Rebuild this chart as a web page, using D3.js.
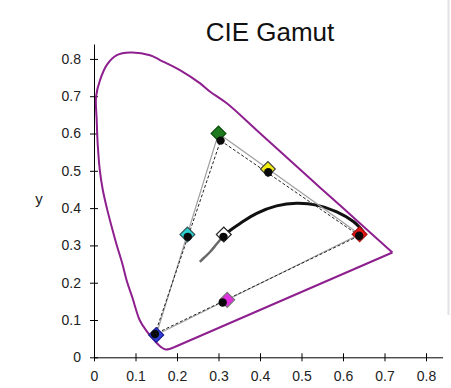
<!DOCTYPE html>
<html>
<head>
<meta charset="utf-8">
<script src="https://cdn.jsdelivr.net/npm/d3@7"></script>
<style>
  body { margin: 0; background: #fff; }
  svg { display: block; font-family: "Liberation Sans", Arial, sans-serif; }
</style>
</head>
<body>
<script>
// spectral locus (blue end -> up the left side -> red end)
const locusX = [0.193, 0.173, 0.161, 0.145, 0.125, 0.110, 0.092, 0.080, 0.068, 0.055, 0.045, 0.031, 0.021, 0.014, 0.009, 0.0065, 0.005, 0.0145, 0.031, 0.055, 0.087, 0.135, 0.159, 0.207, 0.255, 0.280, 0.320, 0.392, 0.50, 0.60, 0.719];
const locusY = [0.027, 0.021, 0.028, 0.046, 0.073, 0.100, 0.162, 0.201, 0.252, 0.300, 0.340, 0.400, 0.450, 0.502, 0.570, 0.636, 0.699, 0.743, 0.784, 0.810, 0.817, 0.810, 0.797, 0.770, 0.735, 0.712, 0.681, 0.609, 0.50, 0.40, 0.281];

// black body curve
const planckX = [0.255, 0.268, 0.280, 0.295, 0.310, 0.330, 0.352, 0.392, 0.440, 0.488, 0.537, 0.585, 0.625, 0.649];
const planckY = [0.256, 0.270, 0.283, 0.303, 0.323, 0.342, 0.359, 0.386, 0.406, 0.413, 0.408, 0.390, 0.364, 0.337];
const planckSplit = 4; // gray up to this index

// target (diamonds) and measured (circles) points
const names = ["R", "G", "B", "C", "M", "Y", "W"];
const targetX = [0.64, 0.30, 0.15, 0.225, 0.321, 0.419, 0.3127];
const targetY = [0.33, 0.60, 0.06, 0.329, 0.154, 0.505, 0.329];
const measX = [0.639, 0.305, 0.147, 0.226, 0.310, 0.420, 0.312];
const measY = [0.326, 0.581, 0.0625, 0.323, 0.147, 0.496, 0.323];
const fills = ["#ee1515", "#1f7a1f", "#2f3fd8", "#2ad0d0", "#e030e0", "#f2ee10", "#ffffff"];
const strokes = ["#a01010", "#0d4d0d", "#1a1a90", "#335555", "#777777", "#444444", "#222222"];

const ticks = [0, 0.1, 0.2, 0.3, 0.4, 0.5, 0.6, 0.7, 0.8];

const W = 451, H = 388;
const svg = d3.select("body").append("svg").attr("width", W).attr("height", H);

const x = d3.scaleLinear().domain([0, 0.84]).range([94, 442.6]);
const y = d3.scaleLinear().domain([0, 0.84]).range([357.3, 44]);

// light strip at the right edge
svg.append("rect").attr("x", 447.5).attr("y", 0).attr("width", 2).attr("height", 315).attr("fill", "#e2e2e2");

// title
svg.append("text")
  .attr("x", 270).attr("y", 41)
  .attr("text-anchor", "middle")
  .attr("font-size", "26px")
  .attr("fill", "#111")
  .text("CIE Gamut");

svg.append("text")
  .attr("x", 39).attr("y", 204)
  .attr("text-anchor", "middle")
  .attr("font-size", "15px")
  .attr("fill", "#222")
  .text("y");

const fmt = d => d === 0 ? "0" : d3.format(".1f")(d);

const gx = svg.append("g")
  .attr("transform", "translate(0," + y(0) + ")")
  .call(d3.axisBottom(x).tickValues(ticks).tickFormat(fmt).tickSize(4).tickSizeOuter(0).tickPadding(10));
gx.selectAll(".tick line").attr("y1", -4);

const gy = svg.append("g")
  .attr("transform", "translate(" + x(0) + ",0)")
  .call(d3.axisLeft(y).tickValues(ticks).tickFormat(fmt).tickSize(4).tickSizeOuter(0).tickPadding(9));
gy.selectAll(".tick line").attr("x1", 4);

svg.selectAll(".tick text").attr("font-size", "14px").attr("fill", "#222").attr("font-family", "Liberation Sans, Arial, sans-serif");
svg.selectAll(".domain, .tick line").attr("stroke", "#000");

// spectral locus
const locus = locusX.map((v, i) => [v, locusY[i]]);
const curve = d3.line().x(d => x(d[0])).y(d => y(d[1])).curve(d3.curveCatmullRom);
svg.append("path")
  .attr("d", curve(locus))
  .attr("fill", "none").attr("stroke", "#8e1f8e").attr("stroke-width", 2);
svg.append("path")
  .attr("d", d3.line().x(d => x(d[0])).y(d => y(d[1]))([locus[locus.length - 1], locus[0]]))
  .attr("fill", "none").attr("stroke", "#8e1f8e").attr("stroke-width", 2);

// black body curve
const planck = planckX.map((v, i) => [v, planckY[i]]);
svg.append("path")
  .attr("d", curve(planck.slice(0, planckSplit + 1)))
  .attr("fill", "none").attr("stroke", "#6a6a6a").attr("stroke-width", 2.5);
svg.append("path")
  .attr("d", curve(planck.slice(planckSplit)))
  .attr("fill", "none").attr("stroke", "#111").attr("stroke-width", 3);

// triangles R-G-B
const tri = [0, 1, 2, 0];
const straight = d3.line();
svg.append("path")
  .attr("d", straight(tri.map(i => [x(targetX[i]), y(targetY[i])])))
  .attr("fill", "none").attr("stroke", "#a0a0a0").attr("stroke-width", 1.2);
svg.append("path")
  .attr("d", straight(tri.map(i => [x(measX[i]), y(measY[i])])))
  .attr("fill", "none").attr("stroke", "#222").attr("stroke-width", 1).attr("stroke-dasharray", "3,2");

// diamonds
const diamond = d3.symbol().type(d3.symbolSquare).size(110);
svg.selectAll(".target")
  .data(names)
  .join("path")
  .attr("class", "target")
  .attr("d", diamond)
  .attr("transform", (d, i) => "translate(" + x(targetX[i]) + "," + y(targetY[i]) + ") rotate(45)")
  .attr("fill", (d, i) => fills[i])
  .attr("stroke", (d, i) => strokes[i])
  .attr("stroke-width", 1.2);

// measured points
svg.selectAll(".meas")
  .data(names)
  .join("circle")
  .attr("class", "meas")
  .attr("cx", (d, i) => x(measX[i]))
  .attr("cy", (d, i) => y(measY[i]))
  .attr("r", 4.2)
  .attr("fill", "#0a0a0a");
</script>
</body>
</html>
